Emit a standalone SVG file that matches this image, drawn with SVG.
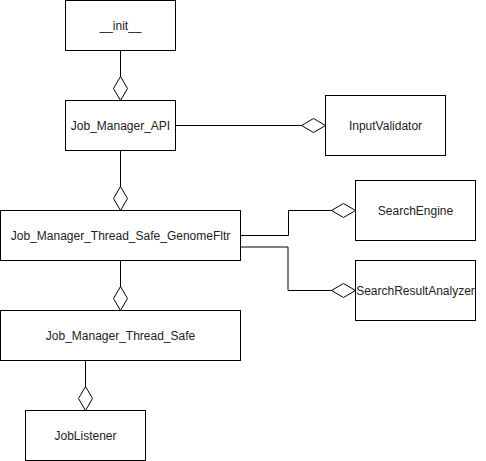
<svg xmlns="http://www.w3.org/2000/svg" width="486" height="461" viewBox="0 0 486 461">
<style>
.box{fill:#fff;stroke:#000;stroke-width:1}
.lbl{font-family:"Liberation Sans",Arial,sans-serif;font-size:12px;fill:#222;text-anchor:middle}
.edge{fill:none;stroke:#000;stroke-width:1;marker-end:url(#agg)}
</style>
<defs>
<marker id="agg" viewBox="0 0 24 14" refX="24" refY="7" markerWidth="24" markerHeight="14" markerUnits="userSpaceOnUse" orient="auto" overflow="visible">
<path d="M0,7 L12,0 L24,7 L12,14 Z" fill="#fff" stroke="#000" stroke-width="1"/>
</marker>
</defs>
<rect width="486" height="461" fill="#fff"/>
<g id="connectors">
<path class="edge" d="M120.5,50.5 V100.5"/>
<path class="edge" d="M175.5,125.5 H325.5"/>
<path class="edge" d="M120.5,150.5 V210.5"/>
<path class="edge" d="M240.5,235.5 H288.5 V210.5 H355.5"/>
<path class="edge" d="M240.5,247 H288 V290.5 H355.5"/>
<path class="edge" d="M120.5,260.5 V310.5"/>
<path class="edge" d="M85.5,360.5 V410.5"/>
</g>
<g id="init"><rect class="box" x="65.5" y="0.5" width="110" height="50"/><text class="lbl" x="120.5" y="29.5">__init__</text></g>
<g id="job_manager_api"><rect class="box" x="65.5" y="100.5" width="110" height="50"/><text class="lbl" x="120.5" y="129.5">Job_Manager_API</text></g>
<g id="input_validator"><rect class="box" x="325.5" y="95.5" width="120" height="60"/><text class="lbl" x="385.5" y="129.5">InputValidator</text></g>
<g id="genome_fltr"><rect class="box" x="0.5" y="210.5" width="240" height="50"/><text class="lbl" x="120.5" y="239.5">Job_Manager_Thread_Safe_GenomeFltr</text></g>
<g id="search_engine"><rect class="box" x="355.5" y="180.5" width="120" height="60"/><text class="lbl" x="415.5" y="214.5">SearchEngine</text></g>
<g id="search_result_analyzer"><rect class="box" x="355.5" y="260.5" width="120" height="60"/><text class="lbl" x="415.5" y="294.5">SearchResultAnalyzer</text></g>
<g id="thread_safe"><rect class="box" x="0.5" y="310.5" width="240" height="50"/><text class="lbl" x="120.5" y="339.5">Job_Manager_Thread_Safe</text></g>
<g id="job_listener"><rect class="box" x="25.5" y="410.5" width="120" height="50"/><text class="lbl" x="85.5" y="439.5">JobListener</text></g>
</svg>
